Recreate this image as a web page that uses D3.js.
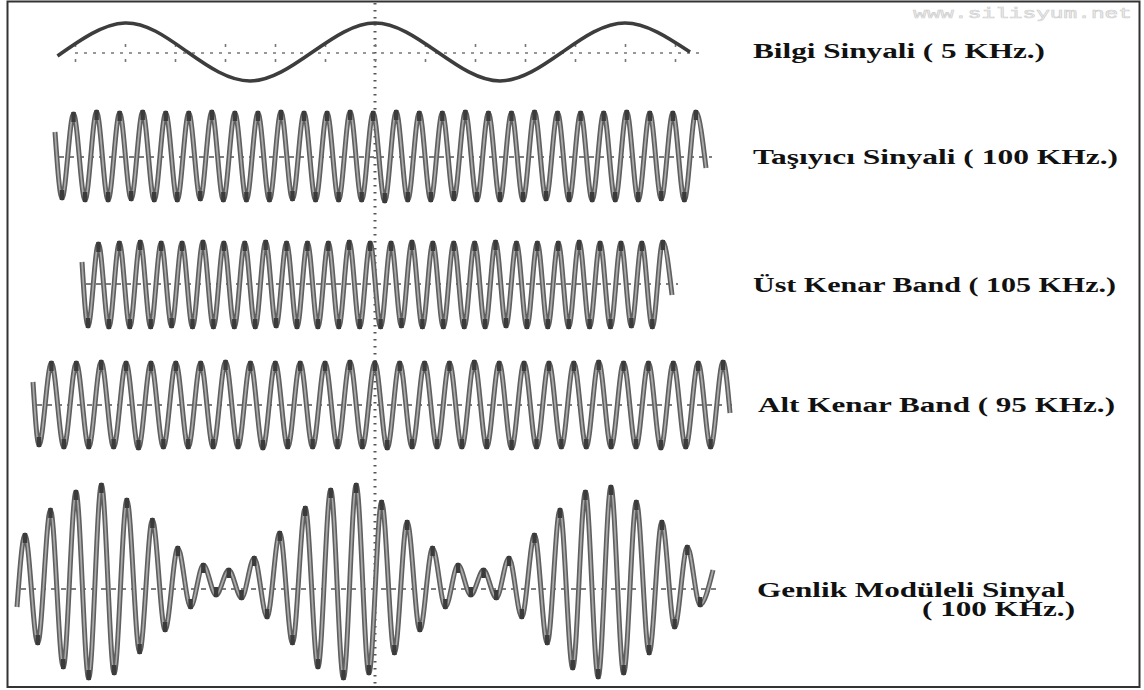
<!DOCTYPE html>
<html>
<head>
<meta charset="utf-8">
<script src="https://cdn.jsdelivr.net/npm/d3@7"></script>
<style>
  html, body { margin: 0; padding: 0; background: #fff; }
  svg { display: block; }
</style>
</head>
<body>
<svg id="scope" width="1144" height="690"></svg>
<script>
// ---------------- Data (time in µs, amplitude in screen divisions) ----------------

// Bilgi sinyali: samples at quarter periods of the 5 kHz tone
const infoTimes  = [-4, 50, 100, 150, 200, 250, 300, 350, 400, 450, 502];
const infoValues = [-0.08, 0.58, 0, -0.58, 0, 0.58, 0, -0.58, 0, 0.58, 0];

// Taşıyıcı (carrier): first sample, troughs and peaks, last sample
const carrierLead = [-6, 0.5];
const carrierTail = [514.8, -0.22];
const carrierTroughs = [-0.82,-0.86,-0.86,-0.84,-0.86,-0.86,-0.84,-0.86,-0.86,-0.86,-0.84,-0.86,-0.86,-0.86,
                        -0.88,-0.86,-0.86,-0.84,-0.86,-0.86,-0.86,-0.84,-0.86,-0.86,-0.86,-0.86,-0.84,-0.86];
const carrierPeaks   = [0.86,0.9,0.88,0.9,0.88,0.88,0.9,0.88,0.88,0.9,0.88,0.88,0.9,0.88,
                        0.9,0.88,0.88,0.9,0.88,0.88,0.9,0.88,0.88,0.88,0.9,0.88,0.88,0.9];

// Üst kenar band (upper sideband)
const usbLead = [15.6, 0.44];
const usbTail = [487.6, -0.22];
const usbTroughs = [-0.84,-0.86,-0.86,-0.86,-0.84,-0.86,-0.86,-0.86,-0.86,-0.84,-0.86,-0.86,-0.86,-0.86,
                    -0.86,-0.84,-0.86,-0.86,-0.86,-0.86,-0.84,-0.86,-0.86,-0.86,-0.86,-0.86,-0.84,-0.86];
const usbPeaks   = [0.8,0.82,0.84,0.82,0.82,0.84,0.82,0.82,0.84,0.82,0.82,0.82,0.84,0.82,
                    0.82,0.84,0.82,0.82,0.82,0.84,0.82,0.82,0.82,0.84,0.82,0.82,0.82,0.84];

// Alt kenar band (lower sideband)
const lsbLead = [-23.6, 0.46];
const lsbTail = [534, -0.16];
const lsbTroughs = [-0.8,-0.84,-0.84,-0.84,-0.86,-0.84,-0.84,-0.84,-0.84,-0.86,-0.84,-0.84,-0.84,-0.84,
                    -0.86,-0.84,-0.84,-0.84,-0.84,-0.86,-0.84,-0.84,-0.84,-0.84,-0.84,-0.86,-0.84,-0.84];
const lsbPeaks   = [0.84,0.84,0.86,0.84,0.84,0.84,0.84,0.86,0.84,0.84,0.84,0.84,0.86,0.84,
                    0.84,0.84,0.84,0.86,0.84,0.84,0.84,0.84,0.86,0.84,0.84,0.84,0.84,0.86];

// Genlik modüleli sinyal (AM): peaks and troughs per carrier cycle
const amLead = [-36.4, -0.36];
const amTail = [520.4, 0.38];
const amPeaks   = [1.08, 1.58, 1.94, 2.08, 1.78, 1.38, 0.82, 0.48, 0.38, 0.62, 1.12, 1.62, 1.98, 2.08,
                   1.74, 1.34, 0.82, 0.48, 0.38, 0.62, 1.08, 1.58, 1.94, 2.04, 1.74, 1.34, 0.84];
const amTroughs = [-1.08, -1.56, -1.78, -1.68, -1.26, -0.82, -0.36, -0.12, -0.18, -0.56, -1.08, -1.56, -1.78, -1.68,
                   -1.28, -0.82, -0.36, -0.12, -0.18, -0.56, -1.08, -1.58, -1.76, -1.68, -1.28, -0.76, -0.32];

// Labels
const labelLines = [
  ["Bilgi Sinyali ( 5 KHz.)"],
  ["Taşıyıcı Sinyali ( 100 KHz.)"],
  ["Üst Kenar Band ( 105 KHz.)"],
  ["Alt Kenar Band ( 95 KHz.)"],
  ["Genlik Modüleli Sinyal", "( 100 KHz.)"]
];
const watermark = "www.silisyum.net";

// ---------------- Layout ----------------
const svg = d3.select("#scope");
const W = 1144, H = 690;

const x = d3.scaleLinear().domain([-40, 540]).range([12.5, 737.5]);
const DIV = 50; // px per vertical division

// Each trace: centre line, timing of first extreme, half period, order of extremes
const traces = [
  { id: "carrier", centre: 157, t0: -0.4, half: 9.22, first: "trough",
    lead: carrierLead, tail: carrierTail, peaks: carrierPeaks, troughs: carrierTroughs },
  { id: "usb", centre: 284, t0: 20.4, half: 8.36, first: "trough",
    lead: usbLead, tail: usbTail, peaks: usbPeaks, troughs: usbTroughs },
  { id: "lsb", centre: 405, t0: -18.8, half: 9.95, first: "trough",
    lead: lsbLead, tail: lsbTail, peaks: lsbPeaks, troughs: lsbTroughs },
  { id: "am", centre: 589, t0: -30, half: 10.19, first: "peak",
    lead: amLead, tail: amTail, peaks: amPeaks, troughs: amTroughs }
];

const labelLayout = [
  { x: 753, y: [58],  len: [292] },
  { x: 753, y: [164], len: [365] },
  { x: 753, y: [292], len: [363] },
  { x: 758, y: [412], len: [357] },
  { x: 757, y: [597, 616], len: [308, 153], dx: [0, 165] }
];

const defs = svg.append("defs");
defs.append("filter").attr("id", "soft")
  .append("feGaussianBlur").attr("stdDeviation", 0.45);

svg.append("rect").attr("width", W).attr("height", H).attr("fill", "#fff");

// ---------------- Graticule ----------------
const grid = svg.append("g").attr("class", "graticule");

// Centre vertical dotted line
grid.append("line")
  .attr("x1", x(250)).attr("x2", x(250))
  .attr("y1", 3).attr("y2", 686)
  .attr("stroke", "#555").attr("stroke-width", 3)
  .attr("stroke-dasharray", "1.4,5.6");

// Info signal centre line with division marks
const infoY = d3.scaleLinear().domain([-1, 1]).range([52 + DIV, 52 - DIV]);
grid.append("line")
  .attr("x1", x(10)).attr("x2", x(510))
  .attr("y1", infoY(-0.02)).attr("y2", infoY(-0.02))
  .attr("stroke", "#777").attr("stroke-width", 1.6)
  .attr("stroke-dasharray", "3,6");
const divTicks = d3.range(10, 491, 40);
grid.append("g").call(
  d3.axisTop(x).tickValues(divTicks).tickSize(3).tickFormat("")
).attr("transform", `translate(0,${infoY(0.1)})`)
 .call(g => g.select(".domain").remove())
 .call(g => g.selectAll("line").attr("stroke", "#777").attr("stroke-width", 1.6));
grid.append("g").call(
  d3.axisBottom(x).tickValues(divTicks).tickSize(3).tickFormat("")
).attr("transform", `translate(0,${infoY(-0.14)})`)
 .call(g => g.select(".domain").remove())
 .call(g => g.selectAll("line").attr("stroke", "#777").attr("stroke-width", 1.6));

// ---------------- Traces ----------------
const waves = svg.append("g").attr("filter", "url(#soft)");

// Bilgi sinyali
const infoLine = d3.line()
  .x(d => x(d[0])).y(d => infoY(d[1]))
  .curve(d3.curveNatural);
waves.append("path")
  .datum(d3.zip(infoTimes, infoValues))
  .attr("d", infoLine)
  .attr("fill", "none")
  .attr("stroke", "#3c3c3c")
  .attr("stroke-width", 3.6)
  .attr("stroke-linejoin", "round");

traces.forEach(tr => {
  const y = d3.scaleLinear().domain([-1, 1]).range([tr.centre + DIV, tr.centre - DIV]);
  // interleave extremes in drawing order
  const n = tr.peaks.length + tr.troughs.length;
  const ext = [];
  let pi = 0, ti = 0;
  for (let i = 0; i < n; i++) {
    const isPeak = (tr.first === "peak") ? (i % 2 === 0) : (i % 2 === 1);
    const v = isPeak ? tr.peaks[pi++] : tr.troughs[ti++];
    ext.push([tr.t0 + i * tr.half, v]);
  }
  const pts = [tr.lead, ...ext, tr.tail];

  // dashed centre line
  waves.append("line")
    .attr("x1", x(tr.lead[0]) + 4).attr("x2", x(tr.tail[0]) + 6)
    .attr("y1", y(0)).attr("y2", y(0))
    .attr("stroke", "#555").attr("stroke-width", 1.6)
    .attr("stroke-dasharray", "5,5");

  const line = d3.line().x(d => x(d[0])).y(d => y(d[1])).curve(d3.curveMonotoneX);
  const g = waves.append("g").attr("class", "trace-" + tr.id);
  g.append("path").datum(pts).attr("d", line)
    .attr("fill", "none").attr("stroke", "#5e5e5e")
    .attr("stroke-width", 5).attr("stroke-linejoin", "round");
  g.append("path").datum(pts).attr("d", line)
    .attr("fill", "none").attr("stroke", "#a9a9a9")
    .attr("stroke-width", 1.8).attr("stroke-linejoin", "round");
  // darker turning points where the beam dwells
  g.selectAll("rect.dwell").data(ext).join("rect")
    .attr("class", "dwell")
    .attr("x", d => x(d[0]) - 2.2)
    .attr("y", d => d[1] > 0 ? y(d[1]) - 2 : y(d[1]) - 8)
    .attr("width", 4.4).attr("height", 10)
    .attr("fill", "#3a3a3a");
});

// ---------------- Labels ----------------
const labels = svg.append("g")
  .attr("font-family", "'Liberation Serif', 'Times New Roman', serif")
  .attr("font-weight", "bold")
  .attr("font-size", 20)
  .attr("fill", "#111");
labelLines.forEach((lines, i) => {
  const L = labelLayout[i];
  lines.forEach((txt, j) => {
    labels.append("text")
      .attr("x", L.x + (L.dx ? L.dx[j] : 0))
      .attr("y", L.y[j])
      .attr("textLength", L.len[j])
      .attr("lengthAdjust", "spacingAndGlyphs")
      .text(txt);
  });
});

// watermark
svg.append("text")
  .attr("x", 913).attr("y", 18)
  .attr("textLength", 219).attr("lengthAdjust", "spacingAndGlyphs")
  .attr("font-family", "'Liberation Mono', monospace")
  .attr("font-size", 15)
  .attr("fill", "#f2f2f2").attr("stroke", "#cfcfcf").attr("stroke-width", 0.6)
  .text(watermark);

// frame
svg.append("rect")
  .attr("x", 7.5).attr("y", 1.5)
  .attr("width", 1132).attr("height", 685.5)
  .attr("fill", "none").attr("stroke", "#333").attr("stroke-width", 2);
</script>
</body>
</html>
